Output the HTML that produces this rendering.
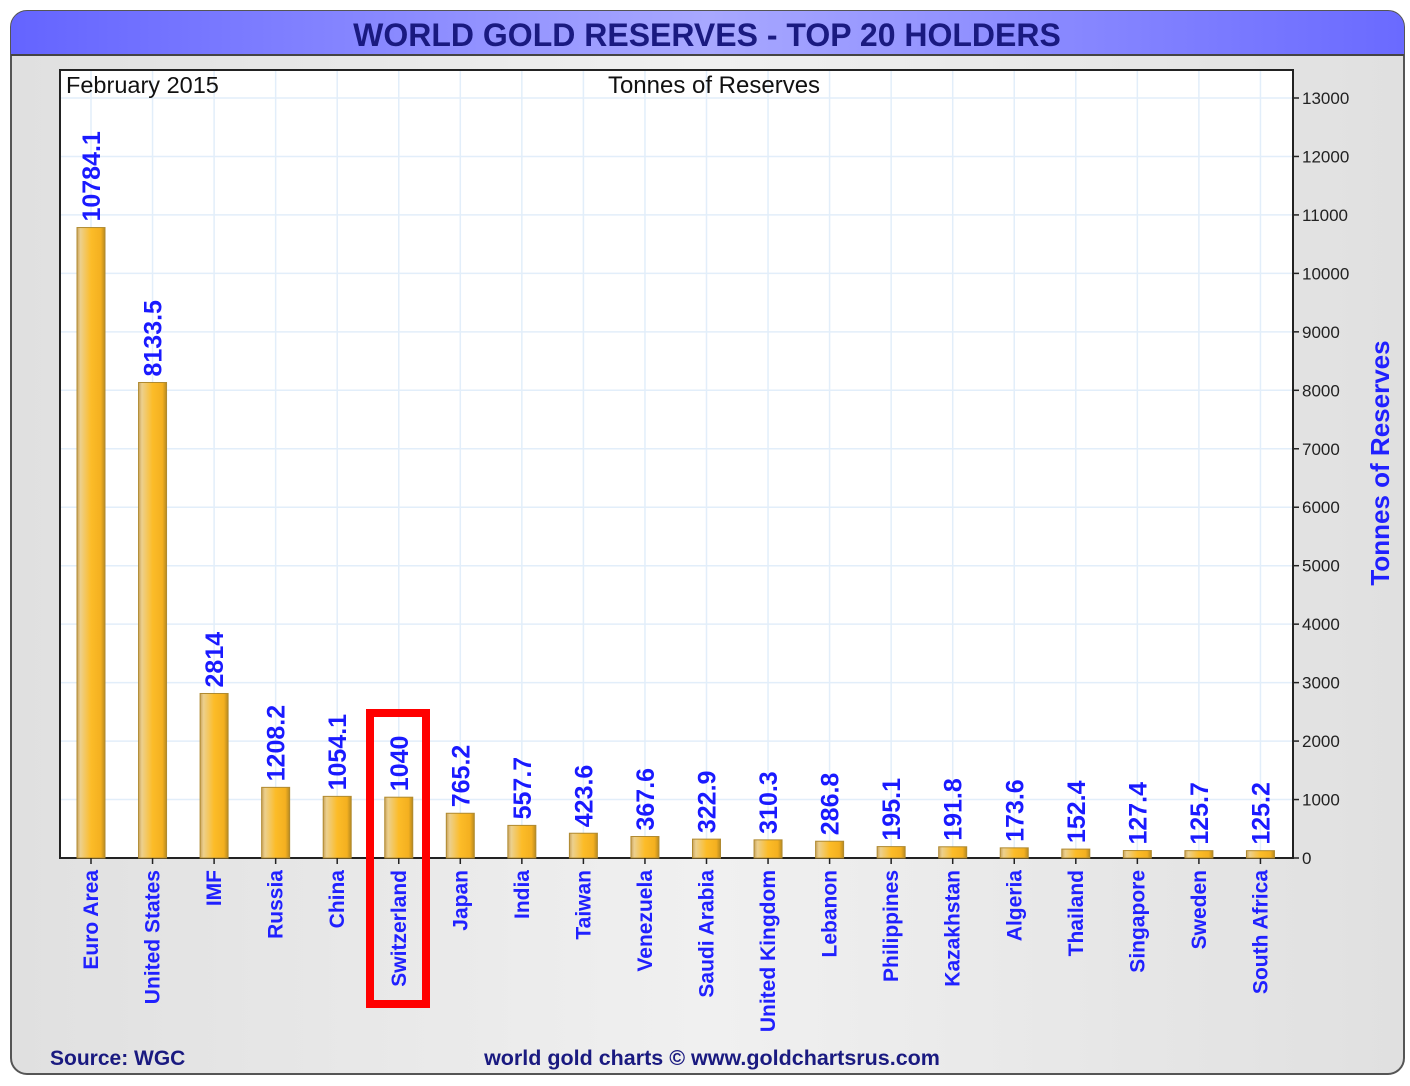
<!DOCTYPE html>
<html><head><style>body{margin:0;background:#fff}svg{display:block}</style></head><body>
<svg width="1410" height="1086" xmlns="http://www.w3.org/2000/svg" font-family="Liberation Sans, sans-serif">
<defs>
<linearGradient id="tb" x1="0" x2="1"><stop offset="0" stop-color="#6464ff"/><stop offset="0.5" stop-color="#a8a8ff"/><stop offset="1" stop-color="#6a6aff"/></linearGradient>
<linearGradient id="bd" x1="0" x2="1"><stop offset="0" stop-color="#e0e0e0"/><stop offset="0.5" stop-color="#f0f0f0"/><stop offset="1" stop-color="#e0e0e0"/></linearGradient>
<linearGradient id="bar" x1="0" x2="1"><stop offset="0" stop-color="#c9a25a"/><stop offset="0.12" stop-color="#ecd08e"/><stop offset="0.5" stop-color="#fcbc28"/><stop offset="0.85" stop-color="#f4b020"/><stop offset="1" stop-color="#b88a20"/></linearGradient>
</defs>
<rect x="11" y="11" width="1393" height="1063" rx="16" fill="url(#bd)" stroke="#555" stroke-width="2"/>
<path d="M11 55 V27 a16 16 0 0 1 16 -16 H1388 a16 16 0 0 1 16 16 V55 Z" fill="url(#tb)"/>
<line x1="11" y1="55" x2="1404" y2="55" stroke="#444" stroke-width="2"/>
<text x="707" y="46" text-anchor="middle" font-size="32" font-weight="bold" fill="#1a1a80">WORLD GOLD RESERVES - TOP 20 HOLDERS</text>
<rect x="60" y="70" width="1233" height="788" fill="#fff"/>
<g stroke="#e2eefa" stroke-width="1.5" id="grid"></g>
<rect x="60" y="70" width="1233" height="788" fill="none" stroke="#222" stroke-width="2"/>
<text x="66" y="93" font-size="23.5" fill="#111">February 2015</text>
<text x="714" y="93" font-size="24" fill="#111" text-anchor="middle">Tonnes of Reserves</text>
<g id="yax" font-size="17" fill="#222"></g>
<text transform="translate(1389,463) rotate(-90)" text-anchor="middle" font-size="26" font-weight="bold" fill="#2020ff">Tonnes of Reserves</text>
<g id="bars"></g>
<rect x="370" y="713" width="56" height="291" fill="none" stroke="#f00" stroke-width="8"/>
<text x="50" y="1065" font-size="21" font-weight="bold" fill="#1a1a80">Source: WGC</text>
<text x="712" y="1065" text-anchor="middle" font-size="21.5" font-weight="bold" fill="#1a1a80">world gold charts © www.goldchartsrus.com</text>
<script>
var ns="http://www.w3.org/2000/svg";
function el(t,a,p,txt){var e=document.createElementNS(ns,t);for(var k in a)e.setAttribute(k,a[k]);if(txt!==undefined)e.textContent=txt;p.appendChild(e);return e;}
var d=[["Euro Area",10784.1],["United States",8133.5],["IMF",2814],["Russia",1208.2],["China",1054.1],["Switzerland",1040],["Japan",765.2],["India",557.7],["Taiwan",423.6],["Venezuela",367.6],["Saudi Arabia",322.9],["United Kingdom",310.3],["Lebanon",286.8],["Philippines",195.1],["Kazakhstan",191.8],["Algeria",173.6],["Thailand",152.4],["Singapore",127.4],["Sweden",125.7],["South Africa",125.2]];
var g=document.getElementById("grid"),y=document.getElementById("yax"),b=document.getElementById("bars");
var s=760/13000;
for(var i=1;i<=13;i++){var yy=858-i*1000*s;el("line",{x1:60,x2:1293,y1:yy,y2:yy},g);}
for(var i=0;i<=13;i++){var yy=858-i*1000*s;el("line",{x1:1293,x2:1299,y1:yy,y2:yy,stroke:"#222","stroke-width":1.5},y);el("text",{x:1302,y:yy+6},y,String(i*1000));}
d.forEach(function(r,i){var cx=91+i*61.55;el("line",{x1:cx,x2:cx,y1:70,y2:858},g);
var h=r[1]*s;el("rect",{x:cx-14,y:858-h,width:28,height:h,fill:"url(#bar)",stroke:"#b08a30","stroke-width":1},b);
el("line",{x1:cx,x2:cx,y1:858,y2:864,stroke:"#222","stroke-width":1.5},b);
el("text",{transform:"translate("+(cx+9)+","+(852-h)+") rotate(-90)","font-size":25,"font-weight":"bold",fill:"#1a1aff"},b,String(r[1]));
el("text",{transform:"translate("+(cx+7)+",870) rotate(-90)","font-size":21,"font-weight":"bold",fill:"#2020ff","text-anchor":"end"},b,r[0]);});
</script>
</svg>
</body></html>
